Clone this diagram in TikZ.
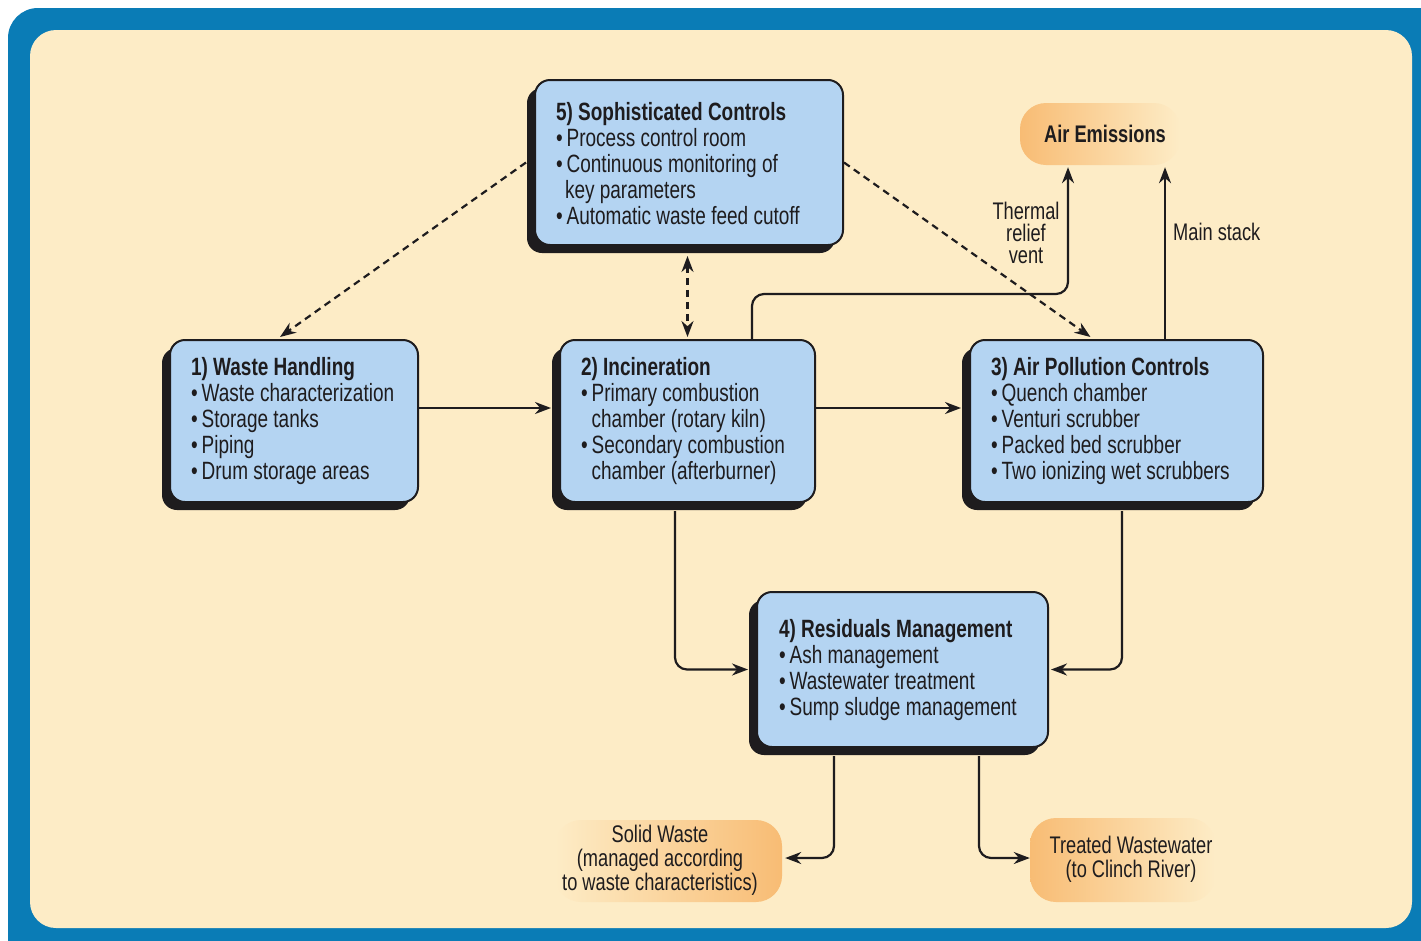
\documentclass[tikz,border=0pt]{standalone}
\usepackage{fontspec}
\setmainfont{Liberation Sans}[FakeStretch=0.76]
\usetikzlibrary{arrows.meta,shadows}
\pgfdeclarelayer{background}
\pgfdeclarelayer{edges}
\pgfsetlayers{background,edges,main}

\definecolor{frameblue}{RGB}{10,124,182}
\definecolor{cream}{RGB}{253,236,198}
\definecolor{boxblue}{RGB}{180,212,242}
\definecolor{tagorange}{RGB}{248,188,116}
\definecolor{ink}{RGB}{30,28,30}

\newcommand\bul{\textbullet\hspace{4pt}}
\newcommand\cont{\phantom{\textbullet\hspace{4pt}}}
% centred block of lines for the output tags
\newcommand\lines[1]{\begin{tabular}{@{}c@{}}#1\end{tabular}}
% flush-left block of lines in a fixed width, set a little lower, for the stage boxes
\newcommand\blk[3][2pt]{\raisebox{-#1}[\height][\depth]{\makebox[#2][l]{\begin{tabular}{@{}l@{}}#3\end{tabular}}}}

\tikzset{
  stage/.style={draw=ink, line width=2pt, fill=boxblue, rounded corners=15pt,
    text=ink, inner xsep=21pt, inner ysep=0pt,
    font=\fontsize{25}{26}\selectfont,
    drop shadow={shadow xshift=-8pt, shadow yshift=-8pt, fill=ink, opacity=1}},
  tag/.style={rounded corners=26pt, text=ink, inner sep=0pt,
    font=\fontsize{24}{22}\selectfont},
  note/.style={align=center, text=ink, inner sep=0pt,
    font=\fontsize{24}{22}\selectfont},
  flow/.style={draw=ink, line width=2.2pt, -{Stealth[length=16pt,width=12pt]}},
  control/.style={flow, dash pattern=on 7pt off 5pt},
}

\begin{document}
\begin{tikzpicture}[x=1pt,y=-1pt]
\useasboundingbox (0,0) rectangle (1421,940);

% frame and panel
\begin{pgfonlayer}{background}
  \clip (0,0) rectangle (1421,940);
  \fill[white] (0,0) rectangle (1421,940);
  \fill[frameblue, rounded corners=30pt] (8,8) rectangle (1470,990);
  \fill[cream, rounded corners=26pt] (30,30) rectangle (1412,928);
\end{pgfonlayer}

% process stages
\node[stage, minimum height=165pt] (b5) at (689,162.5)
  {\blk[5pt]{266pt}{\textbf{5) Sophisticated Controls}\\
   \bul Process control room\\
   \bul Continuous monitoring of\\
   \hspace{9pt}key parameters\\
   \bul Automatic waste feed cutoff}};
\node[stage, minimum height=162pt] (b1) at (294,421)
  {\blk[1pt]{206pt}{\textbf{1) Waste Handling}\\
   \bul Waste characterization\\
   \bul Storage tanks\\
   \bul Piping\\
   \bul Drum storage areas}};
\node[stage, minimum height=162pt] (b2) at (687.5,421)
  {\blk[1pt]{213pt}{\textbf{2) Incineration}\\
   \bul Primary combustion\\
   \cont chamber (rotary kiln)\\
   \bul Secondary combustion\\
   \cont chamber (afterburner)}};
\node[stage, minimum height=162pt] (b3) at (1116.5,421)
  {\blk[1pt]{251pt}{\textbf{3) Air Pollution Controls}\\
   \bul Quench chamber\\
   \bul Venturi scrubber\\
   \bul Packed bed scrubber\\
   \bul Two ionizing wet scrubbers}};
\node[stage, minimum height=155pt, inner xsep=22pt] (b4) at (902.5,669.5)
  {\blk[2pt]{247pt}{\textbf{4) Residuals Management}\\
   \bul Ash management\\
   \bul Wastewater treatment\\
   \bul Sump sludge management}};

% outputs
\node[tag, left color=tagorange, right color=cream, minimum width=160pt, minimum height=62pt]
  (air) at (1100,134) {\hspace{10pt}\textbf{Air Emissions}};
\node[tag, left color=cream, right color=tagorange, minimum width=227pt, minimum height=82pt]
  (solid) at (668.5,861)
  {\lines{Solid Waste\\(managed according\\to waste characteristics)}\kern17pt};
\node[tag, left color=tagorange, right color=cream, minimum width=185pt, minimum height=84pt]
  (treated) at (1122.5,860)
  {\kern17pt\lines{Treated Wastewater\\(to Clinch River)}};

% flow labels
\node[note] (vent) at (1026,233) {Thermal\\relief\\vent};
\node[note, anchor=west] (stack) at (1173,232) {Main stack};

% connectors
\begin{pgfonlayer}{edges}
  \draw[flow] ([yshift=13pt]b1.east) -- ([xshift=-8pt,yshift=13pt]b2.west);
  \draw[flow] ([yshift=13pt]b2.east) -- ([xshift=-8pt,yshift=13pt]b3.west);

  \draw[control] ([xshift=-8pt]b5.west) -- ([xshift=-14pt,yshift=2pt]b1.north);
  \draw[control] (b5.east) -- ([xshift=-26pt,yshift=2pt]b3.north);
  \draw[control, {Stealth[length=16pt,width=12pt]}-{Stealth[length=16pt,width=12pt]}]
    ([yshift=-10pt]b5.south -| b2.north) -- ([yshift=2pt]b2.north);

  \draw[flow, rounded corners=12pt] ([xshift=64.5pt]b2.north) -- ++(0,-45)
    -| ([xshift=-32pt,yshift=-2pt]air.south);
  \draw[flow] ([xshift=48.5pt]b3.north) -- ([xshift=48.5pt,yshift=-2pt]b3.north |- air.south);

  \draw[flow, rounded corners=12pt] ([xshift=-12.5pt,yshift=-8pt]b2.south)
    |- ([xshift=-8pt]b4.west);
  \draw[flow, rounded corners=12pt] ([xshift=5.5pt,yshift=-8pt]b3.south)
    |- ([xshift=2pt]b4.east);

  \draw[flow, rounded corners=12pt] ([xshift=-68.5pt,yshift=-8pt]b4.south)
    |- ([xshift=3pt,yshift=3pt]solid.east);
  \draw[flow, rounded corners=12pt] ([xshift=76.5pt,yshift=-8pt]b4.south)
    |- ([yshift=2pt]treated.west);
\end{pgfonlayer}
\end{tikzpicture}
\end{document}
